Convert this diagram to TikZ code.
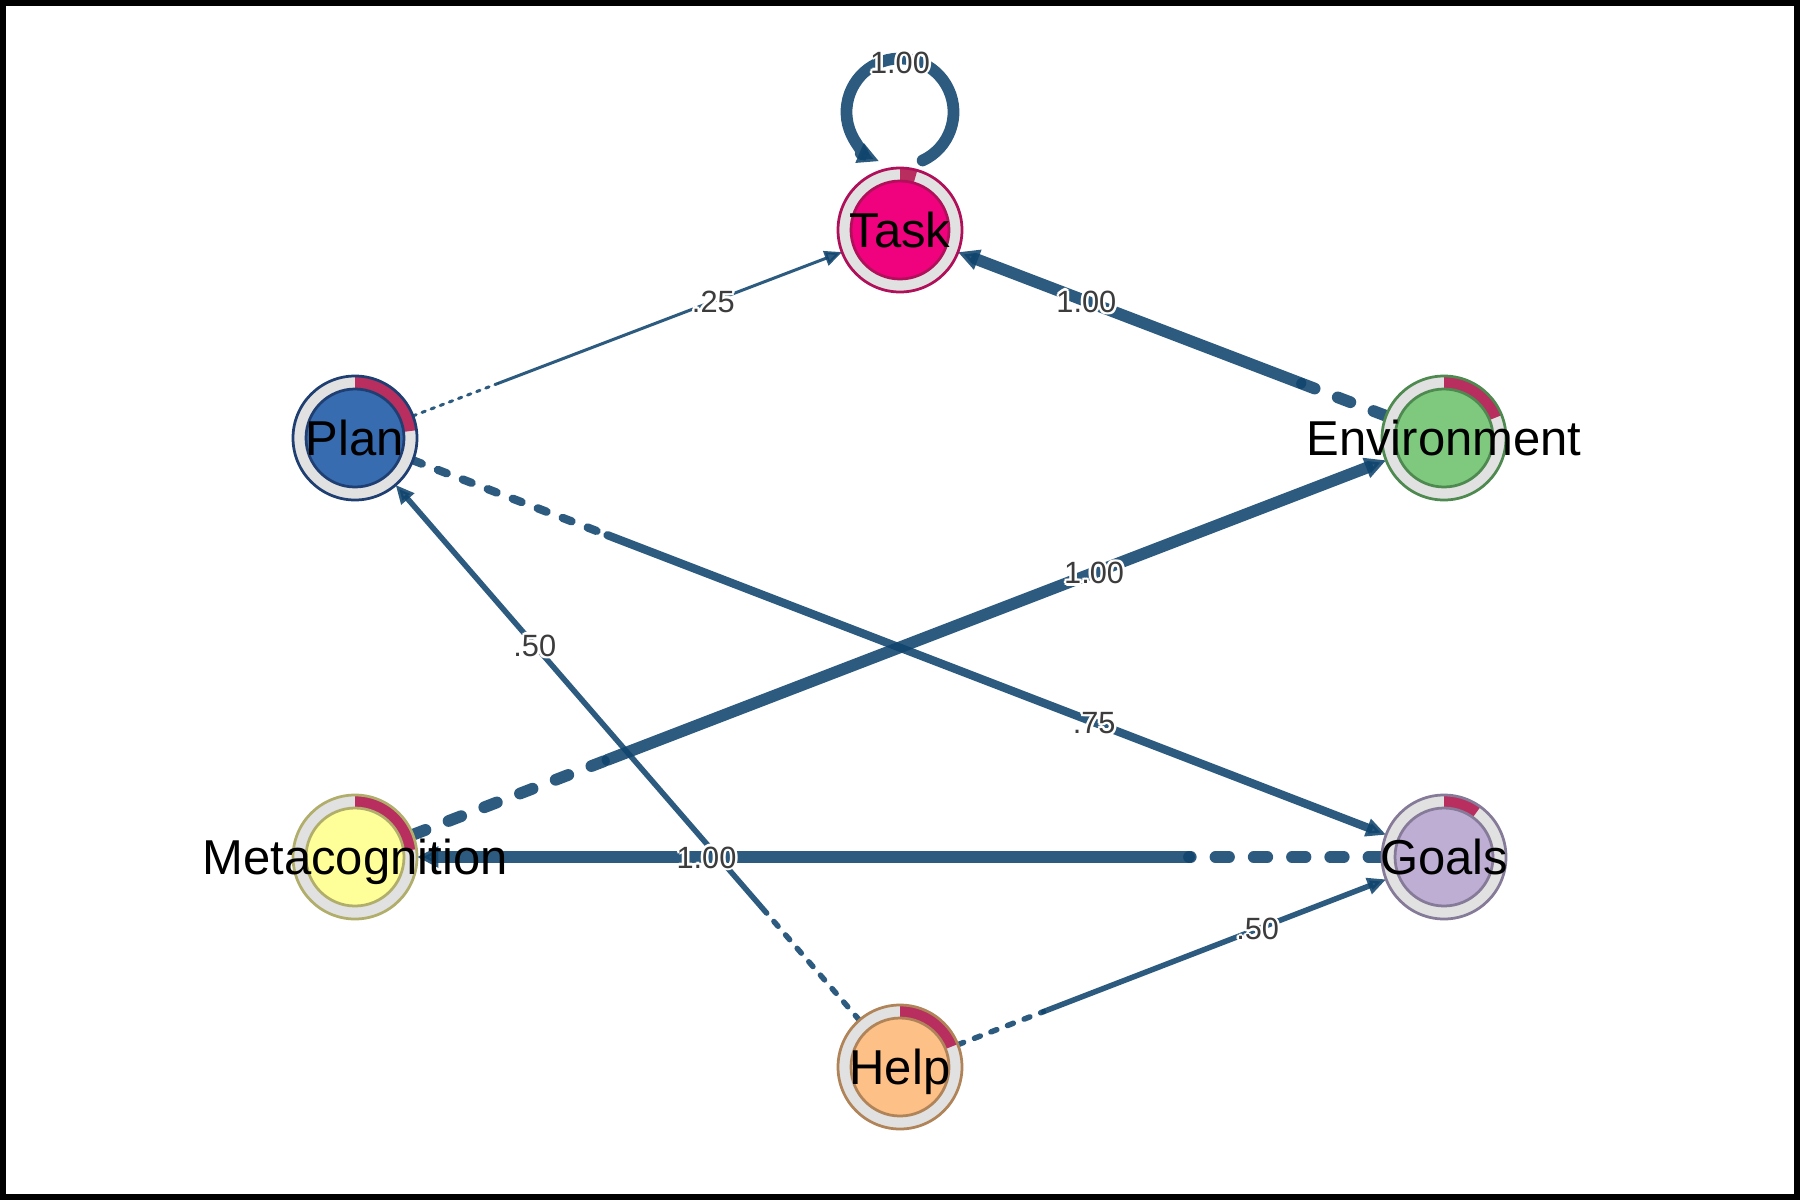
\documentclass[tikz,border=0pt]{standalone}
\usepackage{fontspec}
\setmainfont{Liberation Sans}
\usetikzlibrary{arrows.meta,calc}

\definecolor{edgec}{RGB}{16,69,110}
\definecolor{ringgray}{RGB}{225,225,225}
\definecolor{piered}{RGB}{184,46,94}
\definecolor{lblgray}{RGB}{60,60,60}
\definecolor{taskf}{HTML}{F0027F}\definecolor{taskb}{HTML}{B0105A}
\definecolor{planf}{HTML}{386CB0}\definecolor{planb}{HTML}{1F3F73}
\definecolor{envf}{HTML}{7FC97F}\definecolor{envb}{HTML}{4E8A50}
\definecolor{metaf}{HTML}{FFFF99}\definecolor{metab}{HTML}{B0AE6A}
\definecolor{goalf}{HTML}{BEAED4}\definecolor{goalb}{HTML}{857A98}
\definecolor{helpf}{HTML}{FDC086}\definecolor{helpb}{HTML}{B08458}

\newcommand\hlcopy[3]{\rlap{\kern#1\raisebox{#2}{\textcolor{white}{#3}}}}
\newcommand\halo[1]{\hlcopy{1pt}{0pt}{#1}\hlcopy{-1pt}{0pt}{#1}\hlcopy{0pt}{1pt}{#1}\hlcopy{0pt}{-1pt}{#1}\hlcopy{.71pt}{.71pt}{#1}\hlcopy{-.71pt}{.71pt}{#1}\hlcopy{.71pt}{-.71pt}{#1}\hlcopy{-.71pt}{-.71pt}{#1}#1}

\newcommand\vdeco[4]{%
  \begin{scope}[shift={(#1)},x=1pt,y=1pt]
    \fill[ringgray] (0,0) circle[radius=24.8];
    \fill[piered] (90:24.8) arc[start angle=90,end angle={90-360*#4},radius=24.8]
      -- ({90-360*#4}:19.6) arc[start angle={90-360*#4},end angle=90,radius=19.6] -- cycle;
    \draw[#3,line width=1.1pt] (0,0) circle[radius=24.8];
    \filldraw[fill=#2,draw=#3,line width=1.1pt] (0,0) circle[radius=19.6];
  \end{scope}}

\newcommand\tedge[3]{%
  \path (#1) -- (#2) coordinate[pos=0] (#1#2s) coordinate[pos=0.2] (#1#2m) coordinate[pos=0.7] (#1#2l);
  \draw[conn,w#3,d#3] (#1#2s) -- (#1#2m);
  \draw[conn,w#3,t#3] (#1#2m) -- (#2);}

\begin{document}
\begin{tikzpicture}[x=0.4pt,y=-0.4pt,
  vtx/.style={circle,minimum size=49.6pt,inner sep=0pt,outer sep=0pt},
  vtext/.style={font=\fontsize{19.6pt}{23pt}\selectfont,text=black,inner sep=0pt,text height=14.1pt,text depth=0pt},
  elabel/.style={font=\fontsize{12.3pt}{14pt}\selectfont,text=lblgray,inner sep=0pt,text height=8.8pt,text depth=0pt},
  conn/.style={draw=edgec,opacity=0.88,line cap=round},
  w100/.style={line width=4.7pt}, d100/.style={dash pattern=on 5.4pt off 9.9pt},
  t100/.style={-{Triangle[length=8.5pt,width=8pt]}},
  w75/.style={line width=3.3pt}, d75/.style={dash pattern=on 3.8pt off 6.9pt},
  t75/.style={-{Triangle[length=8pt,width=7pt]}},
  w50/.style={line width=2.2pt}, d50/.style={dash pattern=on 2.5pt off 4.6pt},
  t50/.style={-{Triangle[length=7.5pt,width=6.5pt]}},
  w25/.style={line width=1.2pt}, d25/.style={dash pattern=on 1.4pt off 2.5pt},
  t25/.style={-{Triangle[length=7pt,width=6pt]}}]
\useasboundingbox (0,0) rectangle (1800,1200);
\fill[white] (0,0) rectangle (1800,1200);

% vertices (positions)
\node[vtx] (Task) at (900,230) {};
\node[vtx] (Plan) at (355,438) {};
\node[vtx] (Env)  at (1444,438) {};
\node[vtx] (Meta) at (355,857) {};
\node[vtx] (Goals) at (1444,857) {};
\node[vtx] (Help) at (900,1067) {};
\coordinate (loopc) at (900,112);

% edges
\tedge{Plan}{Task}{25}
\tedge{Env}{Task}{100}
\tedge{Plan}{Goals}{75}
\tedge{Meta}{Env}{100}
\tedge{Goals}{Meta}{100}
\tedge{Help}{Plan}{50}
\tedge{Help}{Goals}{50}
\begin{scope}[x=1pt,y=1pt]
  \draw[conn,w100,t100] ([shift={(-65:21.4)}]loopc) arc[start angle=-65,end angle=247,radius=21.4];
\end{scope}

% vertex drawings
\vdeco{Task}{taskf}{taskb}{0.045}
\vdeco{Plan}{planf}{planb}{0.23}
\vdeco{Env}{envf}{envb}{0.19}
\vdeco{Meta}{metaf}{metab}{0.23}
\vdeco{Goals}{goalf}{goalb}{0.10}
\vdeco{Help}{helpf}{helpb}{0.19}

% edge labels
\node[elabel] (lTT) at (900,62) {\halo{1.00}};
\node[elabel] (lPT) at (PlanTaskl) {\halo{.25}};
\node[elabel] (lET) at (EnvTaskl) {\halo{1.00}};
\node[elabel] (lPG) at (PlanGoalsl) {\halo{.75}};
\node[elabel] (lME) at (MetaEnvl) {\halo{1.00}};
\node[elabel] (lGM) at (GoalsMetal) {\halo{1.00}};
\node[elabel] (lHP) at (HelpPlanl) {\halo{.50}};
\node[elabel] (lHG) at (HelpGoalsl) {\halo{.50}};

% vertex labels
\node[vtext] (tTask) at (Task) {Task};
\node[vtext] (tPlan) at (Plan) {Plan};
\node[vtext] (tEnv) at (Env) {Environment};
\node[vtext] (tMeta) at (Meta) {Metacognition};
\node[vtext] (tGoals) at (Goals) {Goals};
\node[vtext] (tHelp) at (Help) {Help};

\draw[line width=2.4pt] (3,3) rectangle (1797,1197);
\end{tikzpicture}
\end{document}
